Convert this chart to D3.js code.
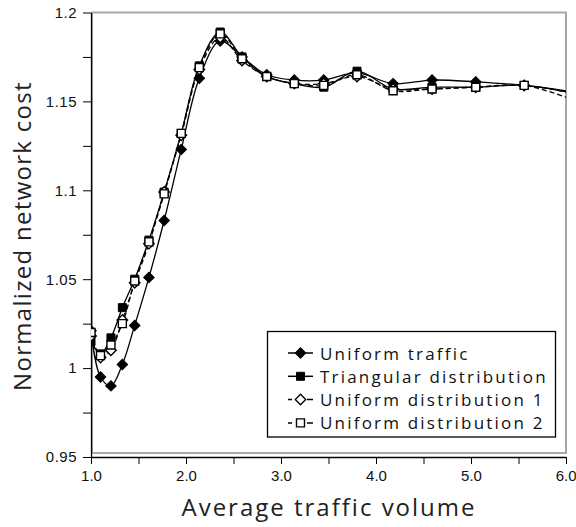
<!DOCTYPE html>
<html>
<head>
<meta charset="utf-8">
<script src="https://cdn.jsdelivr.net/npm/d3@7"></script>
<style>
  body { margin: 0; background: #fff; }
  svg { display: block; font-family: "Open Sans", sans-serif; }
</style>
</head>
<body>
<svg width="576" height="527"></svg>
<script>
// traffic volume steps (last one falls past the axis and is clipped)
const xVals = [1.0, 1.1, 1.21, 1.33, 1.46, 1.61, 1.77, 1.95, 2.14, 2.36, 2.59, 2.85, 3.14, 3.45, 3.80, 4.18, 4.59, 5.05, 5.56, 6.12];
const uniformTraffic = [1.021, 0.995, 0.990, 1.002, 1.024, 1.051, 1.083, 1.123, 1.163, 1.184, 1.175, 1.165, 1.162, 1.162, 1.166, 1.160, 1.162, 1.161, 1.159, 1.155];
const triangular = [1.015, 1.008, 1.017, 1.034, 1.050, 1.072, 1.099, 1.132, 1.170, 1.189, 1.175, 1.164, 1.160, 1.158, 1.167, 1.157, 1.158, 1.158, 1.159, 1.154];
const uniform1 = [1.018, 1.006, 1.010, 1.027, 1.048, 1.070, 1.099, 1.131, 1.168, 1.186, 1.173, 1.164, 1.160, 1.160, 1.164, 1.157, 1.157, 1.158, 1.159, 1.154];
const uniform2 = [1.020, 1.007, 1.013, 1.025, 1.049, 1.071, 1.098, 1.132, 1.169, 1.188, 1.174, 1.164, 1.160, 1.159, 1.165, 1.156, 1.157, 1.158, 1.159, 1.150];
const seriesNames = ["Uniform traffic", "Triangular distribution", "Uniform distribution 1", "Uniform distribution 2"];
const xTicks = [1, 2, 3, 4, 5, 6];
const yTicks = [0.95, 1, 1.05, 1.1, 1.15, 1.2];

const series = [
  { name: seriesNames[0], values: uniformTraffic, shape: "diamond", filled: true, dash: null },
  { name: seriesNames[1], values: triangular, shape: "square", filled: true, dash: null },
  { name: seriesNames[2], values: uniform1, shape: "diamond", filled: false, dash: "5,3" },
  { name: seriesNames[3], values: uniform2, shape: "square", filled: false, dash: "5,3" }
];

const plotLeft = 91, plotRight = 566, plotTop = 12.5, plotBottom = 457;
const svg = d3.select("svg");

const x = d3.scaleLinear().domain([1, 6]).range([plotLeft, plotRight]);
const y = d3.scaleLinear().domain([0.95, 1.2]).range([plotBottom, plotTop]);

// plot area frame (light grey)
svg.append("rect")
  .attr("x", plotLeft + 1).attr("y", plotTop)
  .attr("width", plotRight - plotLeft - 1).attr("height", plotBottom - plotTop - 4)
  .attr("fill", "none").attr("stroke", "#a8a8a8").attr("stroke-width", 2);

svg.append("clipPath").attr("id", "plot")
  .append("rect").attr("x", plotLeft).attr("y", 0).attr("width", plotRight - plotLeft).attr("height", plotBottom);

// axes
const xMinor = d3.range(1, 6.01, 0.5);
svg.append("g")
  .attr("transform", `translate(0,${plotBottom})`)
  .call(d3.axisBottom(x).tickValues(xMinor).tickSize(7).tickSizeOuter(0)
    .tickFormat(d => xTicks.includes(d) ? d3.format(".1f")(d) : ""))
  .call(g => g.selectAll("text").attr("font-size", 15).attr("dy", "0.95em").attr("fill", "#111"))
  .call(g => g.selectAll("text").filter(d => d === 6).attr("text-anchor", "end").attr("x", 10)); // keep last label inside the page

const yMinor = d3.range(0, 11).map(i => 0.95 + i * 0.025);
svg.append("g")
  .attr("transform", `translate(${plotLeft},0)`)
  .call(d3.axisLeft(y).tickValues(yMinor).tickSize(8).tickSizeOuter(0)
    .tickFormat(d => {
      const m = yTicks.find(t => Math.abs(t - d) < 1e-6);
      return m === undefined ? "" : String(m);
    }))
  .call(g => g.selectAll("text").attr("font-size", 15).attr("x", -14).attr("letter-spacing", 0.5).attr("fill", "#111"));

svg.selectAll(".domain").attr("stroke-width", 1.3);

// marker drawing
const markerPath = (shape) => shape === "diamond"
  ? d3.symbol(d3.symbolSquare, 55)()
  : d3.symbol(d3.symbolSquare, 64)();

const drawMarker = (g, s, cx, cy) => {
  g.append("path")
    .attr("d", markerPath(s.shape))
    .attr("transform", `translate(${cx},${cy})` + (s.shape === "diamond" ? " rotate(45)" : ""))
    .attr("fill", s.filled ? "#000" : "#fff")
    .attr("stroke", "#000").attr("stroke-width", s.filled ? 1 : 1.4);
};

const line = d3.line()
  .x((d, i) => x(xVals[i]))
  .y(d => y(d))
  .curve(d3.curveCatmullRom.alpha(0.5));

const plot = svg.append("g").attr("clip-path", "url(#plot)");
for (let s of series) {
  plot.append("path")
    .attr("d", line(s.values))
    .attr("fill", "none")
    .attr("stroke", "#000")
    .attr("stroke-width", 1.3)
    .attr("stroke-dasharray", s.dash);
}
for (let s of series) {
  const g = plot.append("g");
  s.values.forEach((v, i) => {
    if (xVals[i] <= 6) drawMarker(g, s, x(xVals[i]), y(v));
  });
}

// legend
const legend = svg.append("g");
legend.append("rect")
  .attr("x", 267.5).attr("y", 331.5).attr("width", 288).attr("height", 105.5)
  .attr("fill", "#fff").attr("stroke", "#000").attr("stroke-width", 1.3);
series.forEach((s, i) => {
  const ly = 353 + i * 23.3;
  legend.append("line")
    .attr("x1", 288).attr("x2", 313).attr("y1", ly).attr("y2", ly)
    .attr("stroke", "#000").attr("stroke-width", 1.5)
    .attr("stroke-dasharray", s.dash ? "4,7,4" : null);
  drawMarker(legend, s, 300.5, ly);
  legend.append("text")
    .attr("x", 320).attr("y", ly + 6.5)
    .attr("font-size", 17).attr("letter-spacing", 2.2).attr("fill", "#111")
    .text(s.name);
});

// axis titles
svg.append("text")
  .attr("x", 329).attr("y", 516)
  .attr("text-anchor", "middle")
  .attr("font-size", 24).attr("letter-spacing", 2).attr("fill", "#222")
  .text("Average traffic volume");

svg.append("text")
  .attr("transform", "translate(31,236) rotate(-90)")
  .attr("text-anchor", "middle")
  .attr("font-size", 24).attr("letter-spacing", 1.3).attr("fill", "#222")
  .text("Normalized network cost");
</script>
</body>
</html>
